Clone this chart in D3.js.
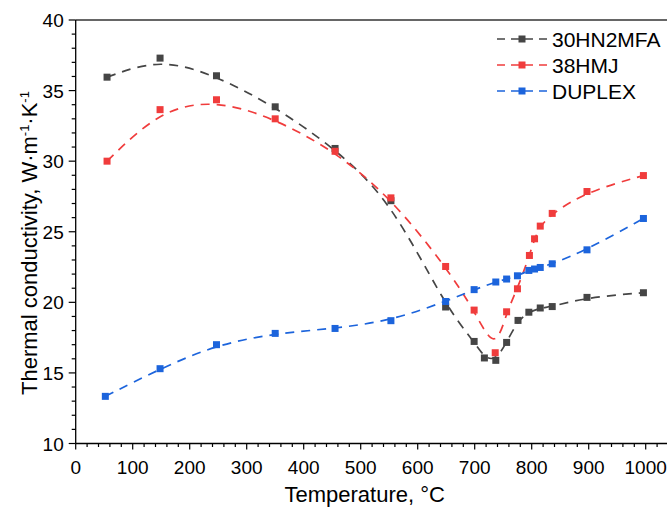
<!DOCTYPE html>
<html><head><meta charset="utf-8">
<script src="https://cdn.jsdelivr.net/npm/d3@7"></script>
<style>body{margin:0;background:#fff}svg{display:block}text{font-family:"Liberation Sans",Arial,sans-serif;fill:#000}</style>
</head><body><svg id="c" width="667" height="508"></svg>
<script>
const seriesNames = ["30HN2MFA", "38HMJ", "DUPLEX"];
const seriesColors = ["#454545", "#f03c3c", "#1c64dc"];
const tGray = [55, 148, 247, 350, 455, 553, 649, 699, 717, 737, 756, 776, 795, 815, 836, 897, 996];
const kGray = [35.95, 37.3, 36.05, 33.85, 30.9, 27.2, 19.67, 17.23, 16.06, 15.89, 17.16, 18.72, 19.3, 19.6, 19.7, 20.35, 20.68];
const tRed = [55, 148, 247, 350, 455, 553, 649, 699, 736, 756, 775, 796, 805, 815, 836, 897, 996];
const kRed = [30.0, 33.65, 34.35, 33.0, 30.7, 27.4, 22.54, 19.45, 16.43, 19.33, 20.96, 23.32, 24.5, 25.4, 26.3, 27.85, 28.98];
const tBlue = [52, 148, 247, 350, 455, 553, 649, 699, 737, 756, 775, 795, 805, 815, 836, 897, 996];
const kBlue = [13.34, 15.3, 17.0, 17.8, 18.15, 18.7, 20.06, 20.9, 21.44, 21.65, 21.88, 22.26, 22.36, 22.47, 22.73, 23.72, 25.94];
const xTicks = [0,100,200,300,400,500,600,700,800,900,1000];
const yTicks = [10,15,20,25,30,35,40];

const series = [[tGray,kGray],[tRed,kRed],[tBlue,kBlue]].map((s,i)=>({
  name: seriesNames[i], color: seriesColors[i],
  pts: s[0].map((t,j)=>({t, k: s[1][j]}))
}));

const svg = d3.select("#c");
const x = d3.scaleLinear().domain([0,1000]).range([75.7,645.7]);
const y = d3.scaleLinear().domain([10,40]).range([443.5,20]);

// frame top line
svg.append("line").attr("x1",x(0)).attr("x2",x(1060)).attr("y1",y(40)).attr("y2",y(40))
  .attr("stroke","#333").attr("stroke-width",1.3);

// x axis
const xMinor = d3.range(0,1061,20);
const gx = svg.append("g").attr("transform",`translate(0,${y(10)})`);
gx.append("line").attr("x1",x(0)).attr("x2",x(1060)).attr("stroke","#000").attr("stroke-width",1.3);
gx.selectAll(".mt").data(xMinor).join("line").attr("x1",d=>x(d)).attr("x2",d=>x(d))
  .attr("y1",0).attr("y2",d=>d%100===0?6:3.5).attr("stroke","#000").attr("stroke-width",1.2);
gx.selectAll(".tl").data(xTicks).join("text").attr("x",d=>x(d)).attr("y",30)
  .attr("text-anchor","middle").attr("font-size",19).text(d=>d);
svg.append("text").attr("x",x(500)+4).attr("y",502).attr("text-anchor","middle")
  .attr("font-size",22).text("Temperature, °C");

// y axis
const yMinor = d3.range(10,40.1,1);
const gy = svg.append("g").attr("transform",`translate(${x(0)},0)`);
gy.append("line").attr("y1",y(10)).attr("y2",y(40)).attr("stroke","#000").attr("stroke-width",1.3);
gy.selectAll(".mt").data(yMinor).join("line").attr("y1",d=>y(d)).attr("y2",d=>y(d))
  .attr("x1",0).attr("x2",d=>d%5===0?-7:-4).attr("stroke","#000").attr("stroke-width",1.2);
gy.selectAll(".tl").data(yTicks).join("text").attr("x",-12).attr("y",d=>y(d)+7)
  .attr("text-anchor","end").attr("font-size",19).text(d=>d);
const yt = svg.append("text").attr("transform","translate(37,243) rotate(-90)")
  .attr("text-anchor","middle").attr("font-size",22);
yt.append("tspan").text("Thermal conductivity, W·m");
yt.append("tspan").attr("font-size",13).attr("dy",-8).text("-1");
yt.append("tspan").attr("dy",8).text("·K");
yt.append("tspan").attr("font-size",13).attr("dy",-8).text("-1");

// series
const line = d3.line().x(d=>x(d.t)).y(d=>y(d.k)).curve(d3.curveBasis);
const ms = 7;
series.forEach(s=>{
  svg.append("path").attr("d",line(s.pts)).attr("fill","none").attr("stroke",s.color)
    .attr("stroke-width",1.7).attr("stroke-dasharray","9,7");
  svg.selectAll(null).data(s.pts).join("rect")
    .attr("x",d=>x(d.t)-ms/2).attr("y",d=>y(d.k)-ms/2).attr("width",ms).attr("height",ms)
    .attr("fill",s.color);
});

// legend
const lg = svg.append("g");
series.forEach((s,i)=>{
  const cy = 39 + i*26;
  lg.append("line").attr("x1",497).attr("x2",547).attr("y1",cy).attr("y2",cy)
    .attr("stroke",s.color).attr("stroke-width",1.7).attr("stroke-dasharray","8,6");
  lg.append("rect").attr("x",522-3.5).attr("y",cy-3.5).attr("width",7).attr("height",7).attr("fill",s.color);
  lg.append("text").attr("x",552).attr("y",cy+7.5).attr("font-size",21).text(s.name);
});
</script></body></html>
